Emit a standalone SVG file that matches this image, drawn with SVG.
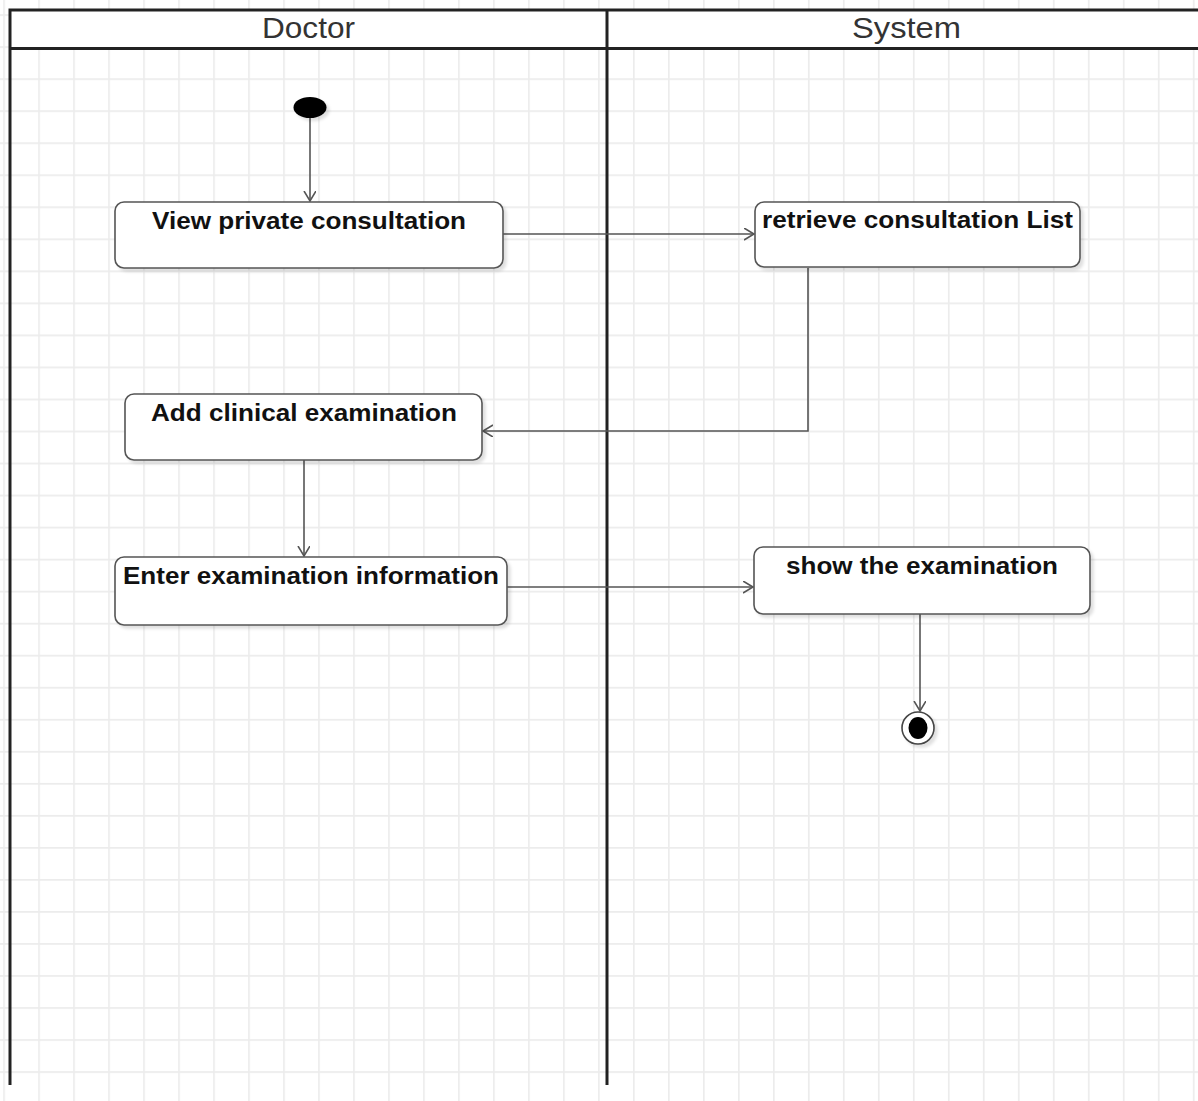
<svg xmlns="http://www.w3.org/2000/svg" width="1198" height="1101" viewBox="0 0 1198 1101">
<style>
.lane{stroke:#222;stroke-width:3;fill:none}
.hdr{font-family:"Liberation Sans",Arial,sans-serif;font-size:29px;fill:#333}
.act{fill:#fff;stroke:#555;stroke-width:1.6}
.lbl{font-family:"Liberation Sans",Arial,sans-serif;font-size:23px;font-weight:bold;fill:#111}
.edge{stroke:#555;stroke-width:1.6;fill:none}
</style>
<defs>
<pattern id="grid" patternUnits="userSpaceOnUse" x="3.2" y="14.2" width="34.99" height="32.03">
<path d="M0.8 0V32.03M0 0.8H34.99" stroke="#ececec" stroke-width="1.8" fill="none"/>
</pattern>
<filter id="sh" x="-10%" y="-10%" width="130%" height="140%">
<feDropShadow dx="3" dy="3" stdDeviation="1.5" flood-color="#000" flood-opacity="0.12"/>
</filter>
<marker id="arr" markerUnits="userSpaceOnUse" markerWidth="14" markerHeight="14" refX="10" refY="6" orient="auto">
<path d="M0,0 L10,6 L0,12" fill="none" stroke="#555" stroke-width="1.6"/>
</marker>
</defs>
<rect width="1198" height="1101" fill="#fff"/>
<rect width="1198" height="1101" fill="url(#grid)"/>
<g id="pool">
<rect x="10" y="10" width="1200" height="38.5" fill="#fff"/>
<path class="lane" d="M10 1085V10H1200M10 48.5H1200M607 10V1085"/>
<text class="hdr" x="262" y="38" textLength="93" lengthAdjust="spacingAndGlyphs">Doctor</text>
<text class="hdr" x="852" y="38" textLength="109" lengthAdjust="spacingAndGlyphs">System</text>
</g>
<g id="connectors">
<path class="edge" d="M310 118V201" marker-end="url(#arr)"/>
<path class="edge" d="M503 234H754" marker-end="url(#arr)"/>
<path class="edge" d="M808 268V431H483" marker-end="url(#arr)"/>
<path class="edge" d="M304 460V556" marker-end="url(#arr)"/>
<path class="edge" d="M507 587H753" marker-end="url(#arr)"/>
<path class="edge" d="M920 614V711" marker-end="url(#arr)"/>
</g>
<g id="start">
<ellipse cx="310" cy="107.5" rx="16.5" ry="10.5" fill="#000" filter="url(#sh)"/>
</g>
<g id="view">
<rect class="act" x="115" y="202" width="388" height="66" rx="9" filter="url(#sh)"/>
<text class="lbl" x="152" y="229" textLength="314" lengthAdjust="spacingAndGlyphs">View private consultation</text>
</g>
<g id="retrieve">
<rect class="act" x="755" y="202" width="325" height="65" rx="9" filter="url(#sh)"/>
<text class="lbl" x="762" y="228" textLength="311" lengthAdjust="spacingAndGlyphs">retrieve consultation List</text>
</g>
<g id="add">
<rect class="act" x="125" y="394" width="357" height="66" rx="9" filter="url(#sh)"/>
<text class="lbl" x="151" y="421" textLength="306" lengthAdjust="spacingAndGlyphs">Add clinical examination</text>
</g>
<g id="enter">
<rect class="act" x="115" y="557" width="392" height="68" rx="9" filter="url(#sh)"/>
<text class="lbl" x="123" y="584" textLength="376" lengthAdjust="spacingAndGlyphs">Enter examination information</text>
</g>
<g id="show">
<rect class="act" x="754" y="547" width="336" height="67" rx="9" filter="url(#sh)"/>
<text class="lbl" x="786" y="574" textLength="272" lengthAdjust="spacingAndGlyphs">show the examination</text>
</g>
<g id="end">
<circle cx="918" cy="728" r="16" fill="#fff" stroke="#444" stroke-width="1.6" filter="url(#sh)"/>
<ellipse cx="918" cy="728" rx="9.5" ry="11" fill="#000"/>
</g>
</svg>
